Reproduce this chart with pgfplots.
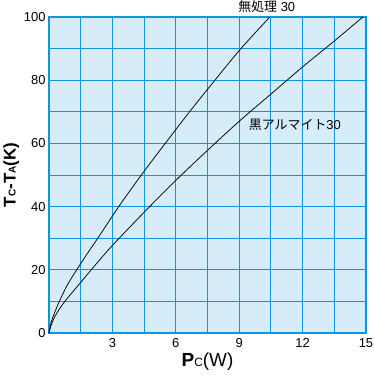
\documentclass[border=0pt]{standalone}
\usepackage{fontspec}
\setmainfont{Liberation Sans}
\newfontfamily\cjk{Noto Sans CJK JP}
\usepackage{pgfplots}
\pgfplotsset{compat=1.18}
\definecolor{bgblue}{RGB}{214,236,249}
\definecolor{gridblue}{RGB}{10,150,226}
\begin{document}
\begin{tikzpicture}
\path[use as bounding box] (-49bp,-46bp) rectangle (326bp,333bp);
\begin{axis}[
  at={(0,0)}, anchor=south west,
  scale only axis, width=317bp, height=316bp,
  xmin=0, xmax=15, ymin=0, ymax=100,
  xtick={3,6,9,12,15}, minor xtick={1.5,4.5,7.5,10.5,13.5},
  ytick={0,20,40,60,80,100}, minor ytick={10,30,50,70,90},
  grid=both,
  major grid style={draw=gridblue, line width=1pt},
  minor grid style={draw=gridblue, line width=1pt},
  axis line style={draw=gridblue, line width=2pt},
  axis background/.style={fill=bgblue},
  major tick length=0pt, minor tick length=0pt,
  tick style={draw=none},
  /pgf/number format/assume math mode=true,
  ticklabel style={font=\fontsize{13}{15}\selectfont},
  xticklabel style={yshift=-2bp},
  xlabel={\fontsize{19}{21}\selectfont\textbf{P}{\fontsize{12}{14}\selectfont C}(W)},
  ylabel={\fontsize{17}{19}\selectfont\textbf{T}{\fontsize{10}{12}\selectfont\textbf{C}}\textbf{-T}{\fontsize{10}{12}\selectfont\textbf{A}}\textbf{(K)}},
  xlabel style={yshift=2bp},
  ylabel style={yshift=-2bp},
  clip=false,
]
\addplot[black, line width=0.75pt, smooth] coordinates {
 (0,0) (0.1,3.3) (0.25,6.2) (0.49,10) (0.85,15) (1.31,20) (1.8,25) (2.31,30)
 (3.3,40) (4.37,50) (5.5,60) (6.65,70) (7.85,80) (9.08,90) (10.45,100)};
\addplot[black, line width=0.75pt, smooth] coordinates {
 (0,0) (0.1,2.4) (0.3,5.5) (0.75,10) (1.5,16) (2.2,21.6) (3,27.7) (4.5,38.2)
 (6,48.3) (7.5,57.8) (9,67.0) (10.5,75.6) (12,84.2) (13.5,92.4) (14.85,100)};
\node[anchor=south west, inner sep=0pt, font=\fontsize{13}{15}\selectfont] at (axis cs:8.95,101.2) {{\cjk 無処理} 30};
\node[anchor=west, inner sep=0pt, font=\fontsize{13}{15}\selectfont] at (axis cs:9.45,65.8) {{\cjk 黒アルマイト}30};
\end{axis}
\end{tikzpicture}
\end{document}
